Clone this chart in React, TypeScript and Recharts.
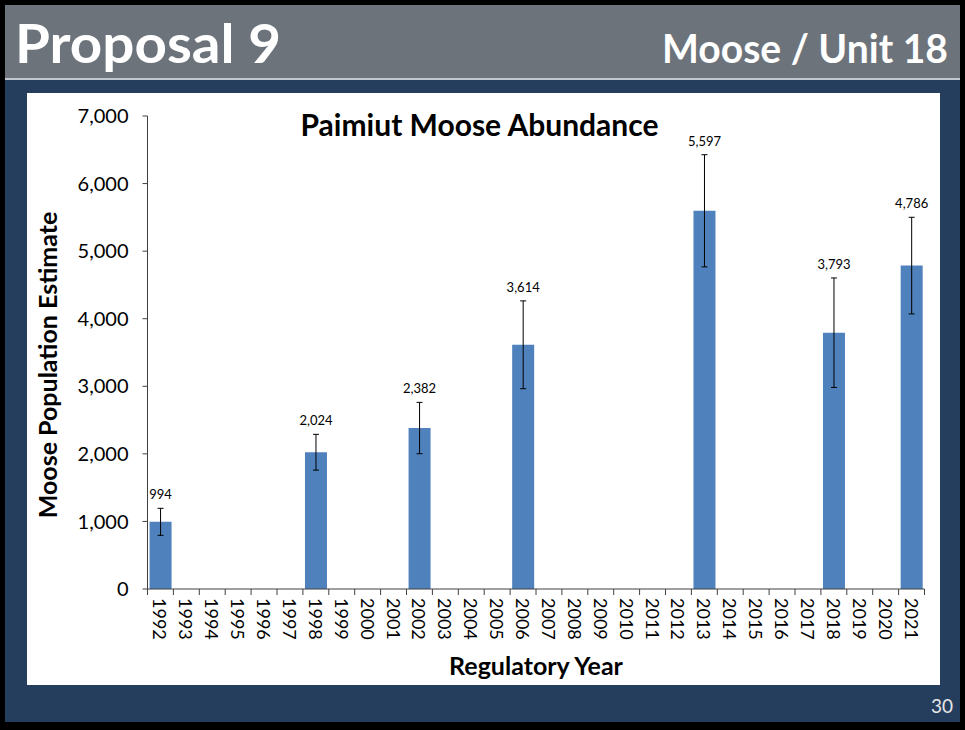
import { BarChart, Bar, XAxis, YAxis, ErrorBar, LabelList } from 'recharts';

// Regulatory years on the category axis
const years = [
  '1992', '1993', '1994', '1995', '1996', '1997', '1998', '1999', '2000', '2001',
  '2002', '2003', '2004', '2005', '2006', '2007', '2008', '2009', '2010', '2011',
  '2012', '2013', '2014', '2015', '2016', '2017', '2018', '2019', '2020', '2021',
];

// Survey years with an estimate
const surveyYears = ['1992', '1998', '2002', '2006', '2013', '2018', '2021'];
const estimates = [994, 2024, 2382, 3614, 5597, 3793, 4786];
// +/- error
const errors = [200, 265, 380, 650, 830, 810, 715];

const yTicks = [0, 1000, 2000, 3000, 4000, 5000, 6000, 7000];

const data = years.map((year) => {
  const i = surveyYears.indexOf(year);
  return {
    year,
    estimate: i >= 0 ? estimates[i] : null,
    err: i >= 0 ? errors[i] : null,
  };
});

const FONT = 'Lato, "Open Sans", sans-serif';
const NAVY = '#253E5E';
const BAR = '#4F81BD';

const CHART_W = 913;
const CHART_H = 592;
const PLOT_LEFT = 120.5;
const PLOT_RIGHT_MARGIN = 15.5;
const BAND = (CHART_W - PLOT_LEFT - PLOT_RIGHT_MARGIN) / years.length;

function YearTick(props: any) {
  const { x, y, payload, index } = props;
  const last = index === years.length - 1;
  return (
    <g>
      <line x1={x - BAND / 2} x2={x - BAND / 2} y1={y} y2={y + 6} stroke="#404040" />
      {last && <line x1={x + BAND / 2} x2={x + BAND / 2} y1={y} y2={y + 6} stroke="#404040" />}
      <text
        transform={`translate(${x},${y + 9}) rotate(90)`}
        textAnchor="start"
        dominantBaseline="central"
        fontSize={18}
        fontFamily={FONT}
        fill="#000"
      >
        {payload.value}
      </text>
    </g>
  );
}

function ValueLabel(props: any) {
  const { value } = props;
  const vb = props.viewBox || props;
  if (value == null || !vb || !vb.height) return null;
  // label sits above the top of the error bar
  const i = estimates.indexOf(Number(value));
  const err = i >= 0 ? errors[i] : 0;
  const pxPerUnit = vb.height / value;
  const top = vb.y - err * pxPerUnit;
  return (
    <text
      x={vb.x + vb.width / 2}
      y={top - 9}
      textAnchor="middle"
      fontSize={13}
      fontFamily={FONT}
      fill="#000"
    >
      {Number(value).toLocaleString('en-US')}
    </text>
  );
}

export default function App() {
  return (
    <div style={{ position: 'absolute', left: 0, top: 0, width: 965, height: 730, background: '#000' }}>
      <svg width={965} height={730} style={{ position: 'absolute', left: 0, top: 0 }}>
        <rect x={5} y={5} width={955} height={717} fill={NAVY} />
        <rect x={5} y={5} width={955} height={73} fill="#6C737B" />
        <rect x={5} y={78} width={955} height={2} fill="#C3C8CE" />
        <rect x={27} y={93} width={913} height={592} fill="#fff" />
        <text x={15} y={63} fontSize={54} fontWeight={700} fill="#fff" fontFamily={FONT}
          textLength={266} lengthAdjust="spacingAndGlyphs">
          Proposal 9
        </text>
        <text x={662} y={63} fontSize={41} fontWeight={700} fill="#fff" fontFamily={FONT}
          textLength={286} lengthAdjust="spacingAndGlyphs">
          Moose / Unit 18
        </text>
        <text x={953} y={713} fontSize={19} fill="#E6E6E6" fontFamily={FONT} textAnchor="end">
          30
        </text>
      </svg>

      <div style={{ position: 'absolute', left: 27, top: 93, width: CHART_W, height: CHART_H }}>
        <BarChart
          width={CHART_W}
          height={CHART_H}
          data={data}
          margin={{ top: 23, right: PLOT_RIGHT_MARGIN, bottom: 0, left: 0 }}
          barCategoryGap="8%"
        >
          <XAxis
            dataKey="year"
            interval={0}
            height={96}
            tickLine={false}
            tickSize={0}
            tickMargin={0}
            axisLine={{ stroke: '#404040' }}
            tick={<YearTick />}
            label={{
              content: (p: any) => {
                const vb = p.viewBox;
                return (
                  <text
                    x={vb.x + vb.width / 2}
                    y={582}
                    textAnchor="middle"
                    fontSize={25}
                    fontWeight={700}
                    fontFamily={FONT}
                    fill="#000"
                  >
                    Regulatory Year
                  </text>
                );
              },
            }}
          />
          <YAxis
            width={PLOT_LEFT}
            domain={[0, 7000]}
            ticks={yTicks}
            interval={0}
            tickSize={5}
            tickMargin={14}
            axisLine={{ stroke: '#404040' }}
            tickLine={{ stroke: '#404040' }}
            tick={{ fontSize: 20, fontFamily: FONT, fill: '#000' }}
            tickFormatter={(v: number) => v.toLocaleString('en-US')}
            label={{
              content: () => (
                <text
                  transform="translate(30,272) rotate(-90)"
                  textAnchor="middle"
                  fontSize={25}
                  fontWeight={700}
                  fontFamily={FONT}
                  fill="#000"
                >
                  Moose Population Estimate
                </text>
              ),
            }}
          />
          <Bar dataKey="estimate" fill={BAR} isAnimationActive={false}>
            <ErrorBar dataKey="err" width={3} stroke="#000" strokeWidth={1} direction="y" />
            <LabelList dataKey="estimate" content={<ValueLabel />} />
          </Bar>
        </BarChart>
        <div
          style={{
            position: 'absolute',
            left: 0,
            top: 13,
            width: 905,
            textAlign: 'center',
            fontFamily: FONT,
            fontWeight: 700,
            fontSize: 30,
            lineHeight: '36px',
            color: '#000',
          }}
        >
          Paimiut Moose Abundance
        </div>
      </div>
    </div>
  );
}
